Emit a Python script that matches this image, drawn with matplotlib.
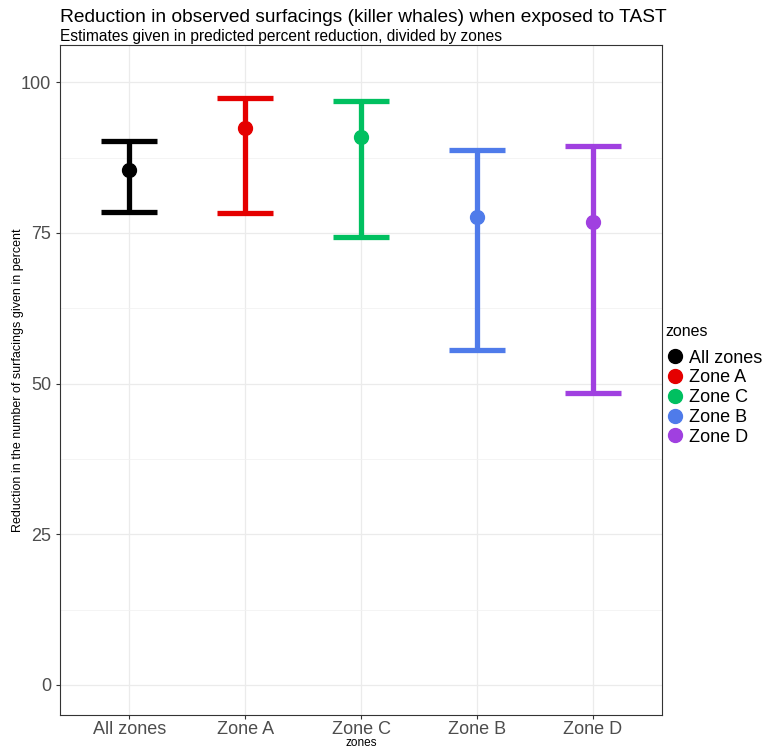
import matplotlib.pyplot as plt
from matplotlib.lines import Line2D

plt.rcParams['font.family'] = ['Liberation Sans', 'DejaVu Sans']

zones = ["All zones", "Zone A", "Zone C", "Zone B", "Zone D"]
estimate = [85.4, 92.4, 90.9, 77.6, 76.8]
lower = [78.4, 78.3, 74.3, 55.6, 48.5]
upper = [90.3, 97.4, 96.9, 88.7, 89.5]
colours = ["#000000", "#E50000", "#00C060", "#4F7BEA", "#A040E0"]

fig = plt.figure(figsize=(7.7, 7.49), dpi=100)
ax = fig.add_axes([60 / 770, 34 / 749, 602 / 770, 670 / 749])

x = list(range(len(zones)))
for i in x:
    ax.errorbar(x[i], estimate[i],
                yerr=[[estimate[i] - lower[i]], [upper[i] - estimate[i]]],
                fmt='o', color=colours[i], ecolor=colours[i], elinewidth=3.8,
                capsize=20, capthick=3.8, markersize=10, zorder=3)

ax.set_xlim(-0.6, 4.6)
ax.set_ylim(-5.0, 106.2)
ax.set_xticks(x)
ax.set_xticklabels(zones, fontsize=13, color="#4D4D4D")
ax.set_yticks([0, 25, 50, 75, 100])
ax.set_yticks([12.5, 37.5, 62.5, 87.5], minor=True)
ax.tick_params(axis='y', labelsize=13, labelcolor="#4D4D4D", color="#333333", length=3)
ax.tick_params(axis='x', color="#333333", length=3, pad=1)
ax.tick_params(which='minor', length=0)
ax.grid(True, which='major', color="#EBEBEB", linewidth=0.9)
ax.grid(True, which='minor', axis='y', color="#F2F2F2", linewidth=0.6)
ax.set_axisbelow(True)
for s in ax.spines.values():
    s.set_color("#333333")
    s.set_linewidth(0.8)

ax.set_xlabel("zones", fontsize=8.5)
ax.xaxis.set_label_coords(0.5, -28 / 670)
ax.xaxis.label.set_va('center')
ax.set_ylabel("Reduction in the number of surfacings given in percent", fontsize=9)
ax.yaxis.set_label_coords(-42 / 602, 0.5)
ax.yaxis.label.set_va('center')

fig.text(60 / 770, 1 - 22 / 749, "Reduction in observed surfacings (killer whales) when exposed to TAST",
         fontsize=13.8, va='baseline')
fig.text(60 / 770, 1 - 41 / 749, "Estimates given in predicted percent reduction, divided by zones",
         fontsize=11.2, va='baseline')

handles = [Line2D([], [], marker='o', linestyle='none', color=c, markersize=10) for c in colours]
leg = fig.legend(handles, zones, title="zones", loc='upper left',
                 bbox_to_anchor=(662 / 770, 1 - 320 / 749), frameon=False,
                 fontsize=13, title_fontsize=11.5, handletextpad=0.3, labelspacing=0.15,
                 handlelength=1.0, borderaxespad=0, borderpad=0.2)
leg._legend_box.align = "left"
leg._legend_box.sep = 8

fig.savefig("out.png", dpi=100)
